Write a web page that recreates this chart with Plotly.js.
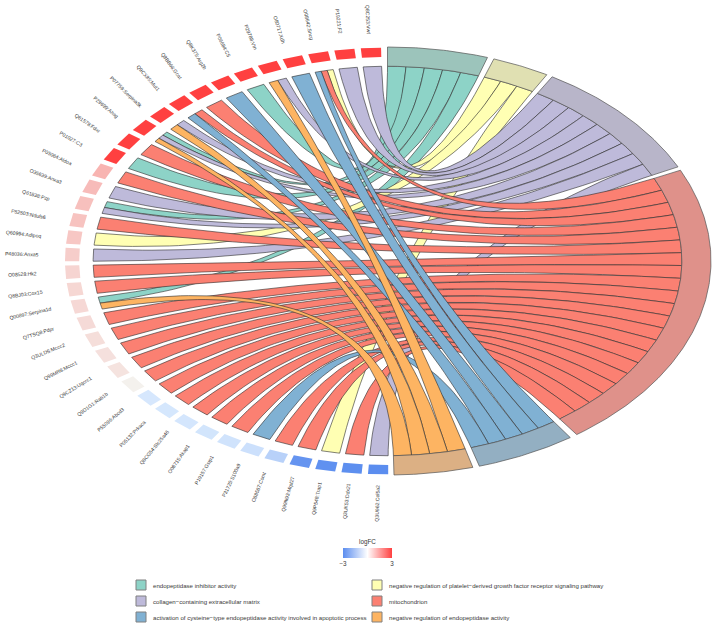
<!DOCTYPE html>
<html>
<head>
<meta charset="utf-8">
<script src="https://cdn.plot.ly/plotly-3.0.1.min.js"></script>
<style>html,body{margin:0;padding:0;background:#fff}#chart{width:716px;height:628px}</style>
</head>
<body>
<div id="chart"></div>
<script>
// ---------- data ----------
const genes = ["Q8C253:Vwf","P19221:F2","O08642:Sncg","O80717:Xdh","P29788:Vtn","P06684:C5","Q8K375:Arg2b","Q8BB66:Gcat","Q9CX85:Mut1","P07759:Serpina3k","P29699:Ahsg","Q61578:Fdxr","P01027:C3","P05064:Aldoa","O35639:Anxa3","Q61838:Pzp","P52503:Ndufs6","Q60994:Adipoq","P48036:Anxa5","O08528:Hk2","Q8BJ03:Cox15","Q00897:Serpina1d","Q7TSQ8:Pdpr","Q3ULD5:Mccc2","Q99MR8:Mccc1","Q9CZ13:Uqcrc1","Q9D1G1:Rab1b","P55096:Abcd3","P05132:Prkaca","Q8CG54:Slc25a46","O08715:Akap1","P19157:Gstp1","P31725:S100a9","O88587:Comt","Q99N93:Mrpl27","Q9P548:Trap1","Q3UK53:Ddx21","Q3U962:Col5a2"];
const logFC = [3,3,3,3,3,3,3,3,3,3,3,3,3,1.05,0.92,0.85,0.8,0.72,0.62,0.5,0.46,0.43,0.4,0.34,0.3,0.26,0.02,-0.42,-0.44,-0.46,-0.5,-0.55,-0.62,-1.05,-2.8,-2.9,-2.95,-3];
const terms = ["endopeptidase inhibitor activity","negative regulation of platelet\u2212derived growth factor receptor signaling pathway","collagen\u2212containing extracellular matrix","mitochondrion","activation of cysteine\u2212type endopeptidase activity involved in apoptotic process","negative regulation of endopeptidase activity"];
// 1-based gene positions belonging to each term
const inhibitorGenes = [6,11,13,16,22];
const plateletGenes = [3,18,36];
const matrixGenes = [1,2,5,10,11,15,16,19,38];
const mitoGenes = [3,8,9,12,14,17,20,21,23,24,25,26,27,28,29,30,31,32,34,35,37];
const apoptosisGenes = [3,4,7,9,33];
const negRegGenes = [5,10,11,22];
const termGenes = [inhibitorGenes, plateletGenes, matrixGenes, mitoGenes, apoptosisGenes, negRegGenes];

// ---------- style and geometry ----------
const ribbonColors = ["#8DD3C7","#FFFFB3","#BEBADA","#FB8072","#80B1D3","#FDB462"];
const sectorColors = ["#9CC4BB","#E0E0B2","#B8B5C9","#DF918A","#93AFC2","#DCB084"];
const termStart = [0.0,19.2,30.6,64.9,145.6,164.7];
const termEnd   = [18.0,29.5,63.9,144.2,163.5,178.85];
const R_OUT = 1, R_IN = 0.91, TILE_OUT = 0.997, TILE_IN = 0.953, R_LABEL = 1.13;
const GENE_FIRST = 1.15, GENE_PITCH = 4.74, GENE_WIDTH = 3.6;
const W = 716, H = 628, CX = 387.5, CY = 261, RX = 323.5, RY = 214;
const LOW = "#5B8DEF", MID_LOW = "#EAF6FF", MID_HIGH = "#F4F2EE", HIGH = "#FF4040";
const TXT = "#3a3a3a", FONT = "Liberation Sans, Arial, sans-serif";

const rad = d => d * Math.PI / 180;
const pos = (r, deg) => [r * Math.sin(rad(deg)), r * Math.cos(rad(deg))];
function arc(r, a, b) {
  const n = Math.max(2, Math.ceil(Math.abs(b - a) / 0.5));
  const out = [];
  for (let i = 0; i <= n; i++) out.push(pos(r, a + (b - a) * i / n));
  return out;
}
function curve(p, q) {
  const out = [];
  for (let i = 0; i <= 60; i++) {
    const s = i / 60, c0 = (1 - s) * (1 - s), c1 = s * s;
    out.push([c0 * p[0] + c1 * q[0], c0 * p[1] + c1 * q[1]]);
  }
  return out;
}
function poly(points, color, line, name) {
  const pts = points.concat([points[0]]);
  return {type:"scatter", mode:"lines", x:pts.map(p=>p[0]), y:pts.map(p=>p[1]), fill:"toself",
          fillcolor:color, line:line, name:name, showlegend:false, hoverinfo:"name"};
}
function mix(a, b, f) {
  const c = h => [1,3,5].map(i => parseInt(h.substr(i,2),16));
  const A = c(a), B = c(b);
  return "rgb(" + A.map((v,i) => Math.round(v + (B[i]-v)*f)).join(",") + ")";
}
const lfcColor = v => v >= 0 ? mix(MID_HIGH, HIGH, Math.min(1, v/3)) : mix(MID_LOW, LOW, Math.min(1, -v/3));

// ---------- build ----------
const geneAngle = i => -(GENE_FIRST + GENE_PITCH * i);   // gene side runs anticlockwise from the top
const traces = [];
const annotations = [];
const shapes = [];

const perGene = genes.map((g, i) => termGenes.reduce((n, list) => n + (list.includes(i + 1) ? 1 : 0), 0));
const used = genes.map(() => 0);
termGenes.forEach((list, k) => {
  const step = (termEnd[k] - termStart[k]) / list.length;
  list.forEach((gene, j) => {
    const g = gene - 1;
    const w = GENE_WIDTH / perGene[g];
    const a0 = geneAngle(g) - used[g] * w, a1 = a0 - w;
    used[g]++;
    const t0 = termStart[k] + j * step, t1 = t0 + step;
    const pts = [].concat(
      curve(pos(R_IN, a0), pos(R_IN, t0)),
      arc(R_IN, t0, t1),
      curve(pos(R_IN, t1), pos(R_IN, a1)),
      arc(R_IN, a1, a0)
    );
    traces.push(poly(pts, ribbonColors[k], {color:"#2b2b2b", width:0.6}, genes[g] + " \u2013 " + terms[k]));
  });
});
terms.forEach((t, k) => {
  const pts = arc(R_OUT, termStart[k], termEnd[k]).concat(arc(R_IN, termEnd[k], termStart[k]));
  traces.push(poly(pts, sectorColors[k], {color:"#555", width:0.7}, t));
});
genes.forEach((g, i) => {
  const a0 = geneAngle(i), a1 = a0 - GENE_WIDTH;
  const pts = arc(TILE_OUT, a0, a1).concat(arc(TILE_IN, a1, a0));
  traces.push(poly(pts, lfcColor(logFC[i]), {width:0}, g));
  const mid = (a0 + a1) / 2, c = pos(R_LABEL, mid);
  annotations.push({x:c[0], y:c[1], xref:"x", yref:"y", text:g, showarrow:false, xanchor:"center", yanchor:"middle",
                    textangle:90 + mid, font:{size:5.1, color:TXT, family:FONT}});
});
// carrier of the colour bar
traces.push({type:"scatter", mode:"markers",
  x:genes.map((g,i)=>pos((TILE_OUT+TILE_IN)/2, geneAngle(i)-GENE_WIDTH/2)[0]),
  y:genes.map((g,i)=>pos((TILE_OUT+TILE_IN)/2, geneAngle(i)-GENE_WIDTH/2)[1]),
  showlegend:false, hoverinfo:"skip",
  marker:{size:1, opacity:0, color:logFC, cmin:-3, cmax:3, colorscale:[[0,LOW],[0.5,"#FFFFFF"],[1,HIGH]], showscale:true,
    colorbar:{orientation:"h", lenmode:"pixels", len:49, thicknessmode:"pixels", thickness:10,
      x:367.5/W, xanchor:"center", y:1-548/H, yanchor:"top", outlinewidth:0, xpad:0, ypad:0,
      tickmode:"array", tickvals:[-3,3], ticktext:["\u22123","3"], ticks:"", ticklen:0,
      tickfont:{size:6.3, color:TXT, family:FONT}}}});
annotations.push({xref:"paper", yref:"paper", x:367.5/W, y:1-542/H, text:"logFC", showarrow:false, xanchor:"center", yanchor:"middle",
                  font:{size:6.3, color:TXT, family:FONT}});

const keyX = [136, 372], keyRows = [585, 601, 617], KEY = 10, KEY_TEXT = 14.7;
terms.forEach((t, k) => {
  const col = k % 2, row = Math.floor(k / 2), x = keyX[col], y = keyRows[row];
  shapes.push({type:"rect", xref:"paper", yref:"paper", x0:x/W, x1:(x+KEY)/W, y0:1-(y-KEY/2)/H, y1:1-(y+KEY/2)/H,
               fillcolor:ribbonColors[k], line:{color:"#808080", width:1}});
  annotations.push({xref:"paper", yref:"paper", x:(x+KEY_TEXT)/W, y:1-y/H, text:t, showarrow:false, xanchor:"left", yanchor:"middle",
                    font:{size:6.1, color:TXT, family:FONT}});
});

const axis = {visible:false, showgrid:false, zeroline:false, fixedrange:true};
Plotly.newPlot("chart", traces, {
  width:W, height:H, margin:{l:0,r:0,t:0,b:0}, paper_bgcolor:"#fff", plot_bgcolor:"#fff", showlegend:false,
  xaxis:Object.assign({range:[(0-CX)/RX,(W-CX)/RX]}, axis),
  yaxis:Object.assign({range:[(CY-H)/RY,CY/RY]}, axis),
  annotations:annotations, shapes:shapes
}, {displayModeBar:false, staticPlot:true});
</script>
</body>
</html>
